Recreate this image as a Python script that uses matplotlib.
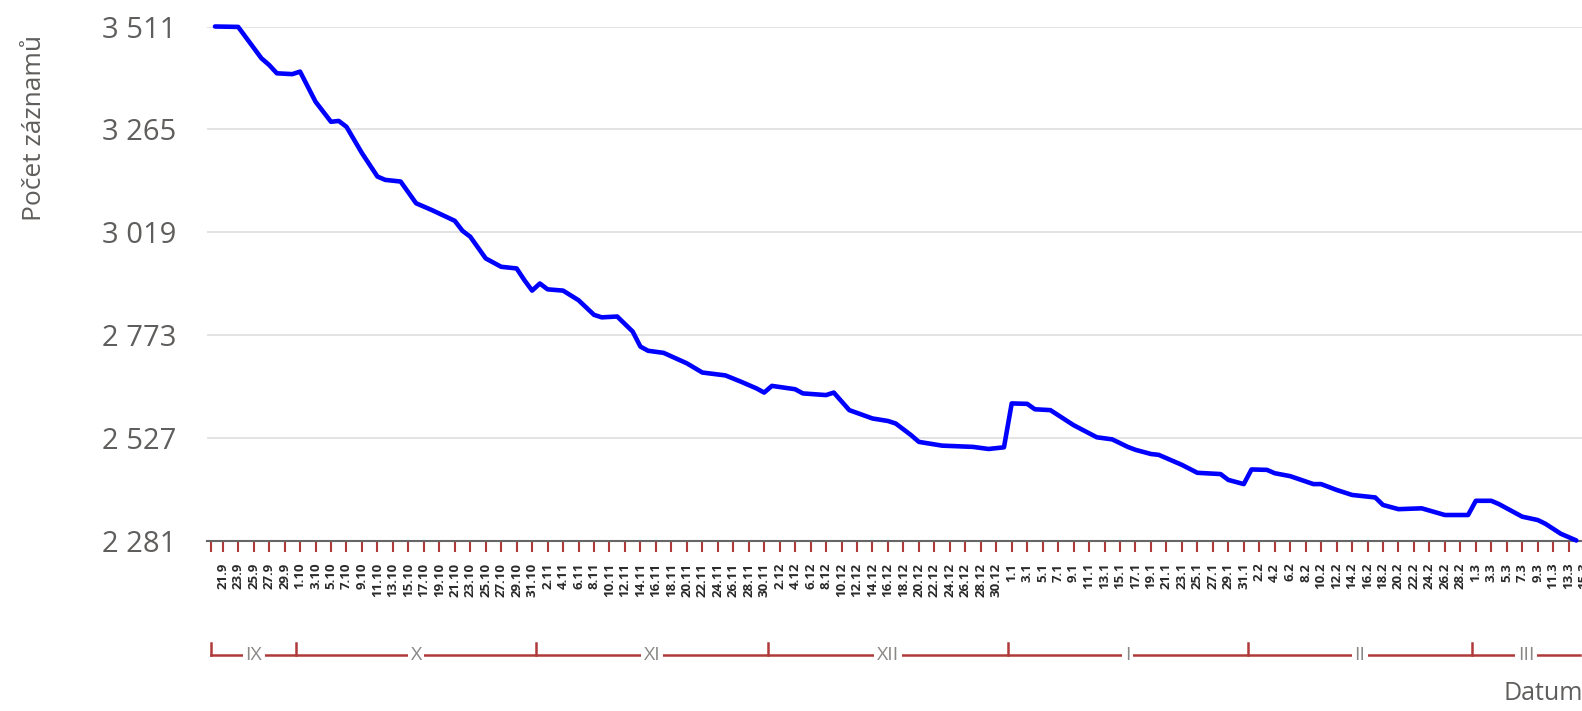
import matplotlib
matplotlib.use('Agg')
import matplotlib.pyplot as plt
import matplotlib.transforms as mtransforms
import pandas as pd

plt.rcParams['font.family'] = ['Open Sans', 'DejaVu Sans']

# daily record counts
dates = ['20.9.2023', '23.9.2023', '26.9.2023', '27.9.2023', '28.9.2023', '30.9.2023',
         '1.10.2023', '3.10.2023', '5.10.2023', '6.10.2023', '7.10.2023', '9.10.2023',
         '11.10.2023', '12.10.2023', '14.10.2023', '16.10.2023', '18.10.2023', '21.10.2023',
         '22.10.2023', '23.10.2023', '25.10.2023', '27.10.2023', '29.10.2023', '30.10.2023',
         '31.10.2023', '1.11.2023', '2.11.2023', '4.11.2023', '6.11.2023', '8.11.2023',
         '9.11.2023', '11.11.2023', '13.11.2023', '14.11.2023', '15.11.2023', '17.11.2023',
         '20.11.2023', '22.11.2023', '25.11.2023', '27.11.2023', '29.11.2023', '30.11.2023',
         '1.12.2023', '4.12.2023', '5.12.2023', '8.12.2023', '9.12.2023', '11.12.2023',
         '14.12.2023', '16.12.2023', '17.12.2023', '19.12.2023', '20.12.2023', '23.12.2023',
         '27.12.2023', '29.12.2023', '31.12.2023', '1.1.2024', '3.1.2024', '4.1.2024',
         '6.1.2024', '7.1.2024', '9.1.2024', '12.1.2024', '14.1.2024', '16.1.2024',
         '17.1.2024', '19.1.2024', '20.1.2024', '23.1.2024', '25.1.2024', '28.1.2024',
         '29.1.2024', '31.1.2024', '1.2.2024', '3.2.2024', '4.2.2024', '6.2.2024',
         '9.2.2024', '10.2.2024', '12.2.2024', '14.2.2024', '17.2.2024', '18.2.2024',
         '20.2.2024', '23.2.2024', '26.2.2024', '29.2.2024', '1.3.2024', '3.3.2024',
         '4.3.2024', '7.3.2024', '9.3.2024', '10.3.2024', '12.3.2024', '14.3.2024']
counts = [3511, 3510, 3435, 3419, 3399, 3397,
          3403, 3331, 3283, 3285, 3271, 3208,
          3152, 3144, 3140, 3088, 3072, 3046,
          3022, 3008, 2956, 2936, 2932, 2904,
          2879, 2896, 2882, 2879, 2856, 2821,
          2815, 2817, 2781, 2745, 2735, 2730,
          2705, 2683, 2676, 2661, 2645, 2635,
          2651, 2643, 2633, 2629, 2635, 2593,
          2573, 2567, 2561, 2533, 2517, 2508,
          2505, 2500, 2504, 2609, 2608, 2595,
          2593, 2581, 2557, 2528, 2523, 2505,
          2498, 2488, 2486, 2462, 2443, 2440,
          2426, 2416, 2451, 2450, 2442, 2435,
          2416, 2416, 2402, 2390, 2384, 2366,
          2356, 2358, 2342, 2342, 2376, 2376,
          2368, 2338, 2330, 2321, 2297, 2281]

yticks = [2281, 2527, 2773, 3019, 3265, 3511]
yticklabels = ['2 281', '2 527', '2 773', '3 019', '3 265', '3 511']

tick_dates = pd.date_range('2023-09-21', '2024-03-15', freq='2D')
months = ['IX', 'X', 'XI', 'XII', 'I', 'II', 'III']
month_starts = pd.to_datetime(['2023-10-01', '2023-11-01', '2023-12-01',
                               '2024-01-01', '2024-02-01', '2024-03-01'])

start = pd.to_datetime(dates[0], format='%d.%m.%Y')
x = [(pd.to_datetime(d, format='%d.%m.%Y') - start).days for d in dates]

W, H = 1582, 711
px_day = 7.757
x0_px = 215
xmin, xmax = -1.05, 176.5

fig = plt.figure(figsize=(W / 100, H / 100), dpi=100)
ax = fig.add_axes([(x0_px + xmin * px_day) / W, (H - 540.5) / H,
                   (xmax - xmin) * px_day / W, 514 / H])

ax.plot(x, counts, color='#0000ff', lw=3.3, solid_joinstyle='round',
        solid_capstyle='round', clip_on=False, zorder=3)

ax.set_xlim(xmin, xmax)
ax.set_ylim(yticks[0], yticks[-1])
ax.set_yticks(yticks)
ax.set_yticklabels(yticklabels)
ax.yaxis.grid(True, color='#e1e1e1', lw=1.3)
ax.set_axisbelow(True)

tx = [(d - start).days for d in tick_dates]
ax.set_xticks(tx)
ax.set_xticklabels([f'{d.day}.{d.month}' for d in tick_dates], rotation=90,
                   fontweight='bold')
ax.set_xticks([-0.5], minor=True)
ax.tick_params(axis='x', which='both', direction='out', length=8, width=1.5,
               color='#b03a3a', labelsize=9.5, labelcolor='#2a2a2a', pad=8)
ax.tick_params(axis='y', length=0, pad=22, labelsize=21, labelcolor='#605e5c')

for s in ['left', 'right', 'top']:
    ax.spines[s].set_visible(False)
ax.spines['bottom'].set_color('#666666')
ax.spines['bottom'].set_linewidth(1.5)

# month bracket under the date labels
trans = mtransforms.blended_transform_factory(ax.transData, ax.transAxes)
yb = (540.5 - 655) / 514
yt = (540.5 - 643) / 514
bounds = [-0.5] + [(m - start).days - 0.5 for m in month_starts] + [xmax]
ax.plot([bounds[0], bounds[-1]], [yb, yb], transform=trans, clip_on=False,
        color='#b03a3a', lw=1.8)
for b in bounds[:-1]:
    ax.plot([b, b], [yb, yt], transform=trans, clip_on=False, color='#b03a3a', lw=1.8)
for i, m in enumerate(months):
    ax.text((bounds[i] + bounds[i + 1]) / 2, yb, m, transform=trans, ha='center',
            va='center', fontsize=14, color='#8a8886',
            bbox=dict(fc='white', ec='none', pad=2))

fig.text(35 / W, 1 - 128 / H, 'Počet záznamů', rotation=90, ha='center',
         va='center', fontsize=19, color='#605e5c')
fig.text(1503 / W, 1 - 694 / H, 'Datum', ha='left', va='center',
         fontsize=18, color='#605e5c')

fig.savefig('out.png', dpi=100)
